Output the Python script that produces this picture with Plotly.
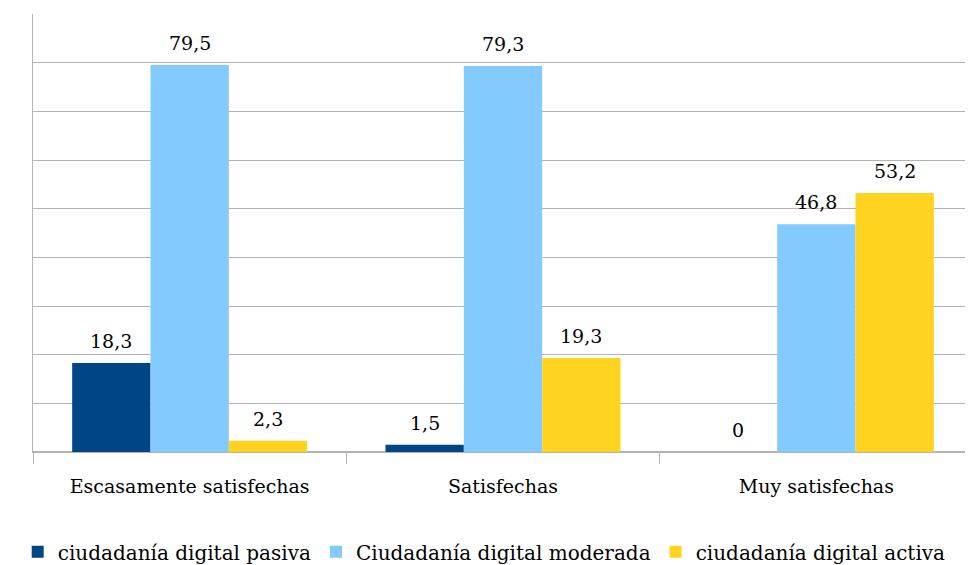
import plotly.graph_objects as go

categories = ["Escasamente satisfechas", "Satisfechas", "Muy satisfechas"]
series_names = ["ciudadanía digital pasiva", "Ciudadanía digital moderada", "ciudadanía digital activa"]
pasiva = [18.3, 1.5, 0]
moderada = [79.5, 79.3, 46.8]
activa = [2.3, 19.3, 53.2]
colors = ["#004586", "#83CAFF", "#FFD320"]

FONT = "DejaVu Serif"
FS = 19

W, H = 965, 557
ML, MR, MT, MB = 25, 0, 6, 113
BARGAP = 0.25

def fmt(v):
    s = ("%.1f" % v).replace(".", ",")
    if s.endswith(",0"):
        s = s[:-2]
    return s

fig = go.Figure()
all_series = [pasiva, moderada, activa]
for name, vals, col in zip(series_names, all_series, colors):
    fig.add_trace(go.Bar(
        x=categories, y=vals, name=name,
        marker=dict(color=col, line=dict(width=0)),
    ))

# value labels above bars
cat_w = (W - ML - MR) / len(categories)
bar_w = cat_w * (1 - BARGAP) / len(all_series)
annotations = []
for si, vals in enumerate(all_series):
    off = (si - (len(all_series) - 1) / 2) * bar_w
    for c, v in zip(categories, vals):
        annotations.append(dict(
            x=c, y=v, xref="x", yref="y", text=fmt(v), showarrow=False,
            xanchor="center", yanchor="bottom", xshift=off, yshift=9,
            font=dict(family=FONT, size=FS, color="#000000"),
        ))

fig.update_layout(
    width=W, height=H,
    margin=dict(l=ML, r=MR, t=MT, b=MB, autoexpand=False),
    paper_bgcolor="white", plot_bgcolor="white",
    barmode="group", bargap=BARGAP, bargroupgap=0,
    font=dict(family=FONT, size=FS, color="#000000"),
    showlegend=True,
    legend=dict(orientation="h", x=0.48, xanchor="center", y=-0.228, yanchor="middle",
                font=dict(family=FONT, size=20), traceorder="normal"),
    annotations=annotations,
)
fig.update_xaxes(
    showline=True, linecolor="#b3b3b3", linewidth=1,
    ticks="outside", tickson="boundaries", ticklen=11, tickcolor="#b3b3b3",
    showgrid=False, tickfont=dict(family=FONT, size=FS), ticklabelstandoff=17,
    automargin=False,
)
fig.update_yaxes(
    range=[0, 90], dtick=10, showticklabels=False, showgrid=True,
    gridcolor="#b3b3b3", gridwidth=1, zeroline=True, zerolinecolor="#b3b3b3",
    showline=True, linecolor="#b3b3b3", linewidth=1, ticks="", automargin=False,
)
fig.write_html("out.html")
